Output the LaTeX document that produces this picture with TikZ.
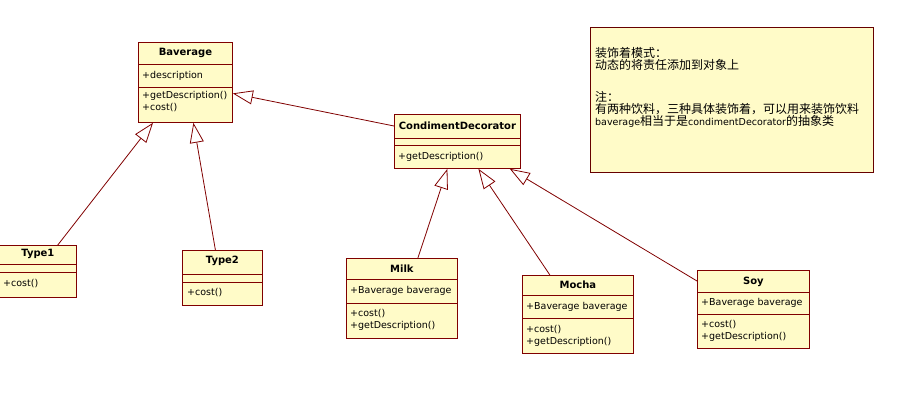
\documentclass[tikz,border=0pt]{standalone}
\usepackage{fontspec}
\setmainfont{DejaVu Sans}
\newfontfamily\cjk{Noto Sans CJK SC}
\newfontfamily\notelatin{DejaVu Sans}
\usetikzlibrary{arrows.meta,calc}
\definecolor{umlYellow}{RGB}{255,251,200}
\definecolor{umlRed}{RGB}{128,0,0}

\begin{document}
\begin{tikzpicture}[
  x=1pt, y=-1pt,
  classbox/.style={draw=umlRed, fill=umlYellow, line width=0.8pt, anchor=north west, inner sep=0pt},
  notebox/.style={draw=umlRed!80!black, fill=umlYellow, line width=0.8pt, anchor=north west, inner sep=0pt, minimum width=283, minimum height=145},
  title/.style={font=\fontsize{10}{12}\selectfont\bfseries, inner sep=0pt},
  member/.style={font=\fontsize{9.5}{12}\selectfont, anchor=west, align=left, inner sep=0pt},
  sepline/.style={umlRed, line width=0.8pt},
  inherit/.style={-{Triangle[open, length=20pt, width=14pt]}, umlRed, line width=0.8pt}
]
  \clip (0,0) rectangle (899,415);

  % Baverage
  \node[classbox, minimum width=94, minimum height=80] (bav) at (138,42) {};
  \draw[sepline] ([yshift=-22]bav.north west) -- ([yshift=-22]bav.north east);
  \draw[sepline] ([yshift=-45]bav.north west) -- ([yshift=-45]bav.north east);
  \node[title] (bavName) at ([yshift=-10.5]bav.north) {Baverage};
  \node[member] (bavAttr) at ([xshift=4,yshift=-33.5]bav.north west) {+description};
  \node[member] (bavOps) at ([xshift=4,yshift=-60]bav.north west) {+getDescription()\\+cost()};

  % CondimentDecorator
  \node[classbox, minimum width=126, minimum height=54] (cd) at (394,114) {};
  \draw[sepline] ([yshift=-24]cd.north west) -- ([yshift=-24]cd.north east);
  \draw[sepline] ([yshift=-31]cd.north west) -- ([yshift=-31]cd.north east);
  \node[title] (cdName) at ([yshift=-12]cd.north) {CondimentDecorator};
  \node[member] (cdOps) at ([xshift=4,yshift=-43]cd.north west) {+getDescription()};

  % Type1
  \node[classbox, minimum width=77, minimum height=52] (t1) at (-1,245) {};
  \draw[sepline] ([yshift=-19]t1.north west) -- ([yshift=-19]t1.north east);
  \draw[sepline] ([yshift=-27]t1.north west) -- ([yshift=-27]t1.north east);
  \node[title] (t1Name) at ([yshift=-8.5]t1.north) {Type1};
  \node[member] (t1Ops) at ([xshift=4,yshift=-39]t1.north west) {+cost()};

  % Type2
  \node[classbox, minimum width=80, minimum height=55] (t2) at (182,250) {};
  \draw[sepline] ([yshift=-24]t2.north west) -- ([yshift=-24]t2.north east);
  \draw[sepline] ([yshift=-32]t2.north west) -- ([yshift=-32]t2.north east);
  \node[title] (t2Name) at ([yshift=-11]t2.north) {Type2};
  \node[member] (t2Ops) at ([xshift=5,yshift=-43]t2.north west) {+cost()};

  % Milk
  \node[classbox, minimum width=111, minimum height=80] (milk) at (346,258) {};
  \draw[sepline] ([yshift=-21]milk.north west) -- ([yshift=-21]milk.north east);
  \draw[sepline] ([yshift=-45]milk.north west) -- ([yshift=-45]milk.north east);
  \node[title] (milkName) at ([yshift=-11]milk.north) {Milk};
  \node[member] (milkAttr) at ([xshift=4,yshift=-33]milk.north west) {+Baverage baverage};
  \node[member] (milkOps) at ([xshift=4,yshift=-61.5]milk.north west) {+cost()\\+getDescription()};

  % Mocha
  \node[classbox, minimum width=111, minimum height=78] (mocha) at (522,275) {};
  \draw[sepline] ([yshift=-20]mocha.north west) -- ([yshift=-20]mocha.north east);
  \draw[sepline] ([yshift=-43]mocha.north west) -- ([yshift=-43]mocha.north east);
  \node[title] (mochaName) at ([yshift=-10]mocha.north) {Mocha};
  \node[member] (mochaAttr) at ([xshift=4,yshift=-32]mocha.north west) {+Baverage baverage};
  \node[member] (mochaOps) at ([xshift=4,yshift=-60.5]mocha.north west) {+cost()\\+getDescription()};

  % Soy
  \node[classbox, minimum width=112, minimum height=78] (soy) at (697,270) {};
  \draw[sepline] ([yshift=-22]soy.north west) -- ([yshift=-22]soy.north east);
  \draw[sepline] ([yshift=-44]soy.north west) -- ([yshift=-44]soy.north east);
  \node[title] (soyName) at ([yshift=-11.5]soy.north) {Soy};
  \node[member] (soyAttr) at ([xshift=4,yshift=-33]soy.north west) {+Baverage baverage};
  \node[member] (soyOps) at ([xshift=4,yshift=-61]soy.north west) {+cost()\\+getDescription()};

  % note
  \node[notebox] (note) at (590,27) {};
  \node[anchor=west, align=left, inner sep=0pt, font=\cjk\fontsize{12}{12.3}\selectfont] (noteText) at ([xshift=5,yshift=-60.5]note.north west)
    {装饰着模式：\\
     动态的将责任添加到对象上\\[19.5pt]
     注：\\
     有两种饮料，三种具体装饰着，可以用来装饰饮料\\
     {\notelatin\fontsize{9.5}{12.3}\selectfont baverage}相当于是{\notelatin\fontsize{9.5}{12.3}\selectfont condimentDecorator}的抽象类};

  % generalizations
  \draw[inherit] ([xshift=-19]t1.north east) -- ([xshift=15]bav.south west);
  \draw[inherit] ([xshift=-7]t2.north) -- ([xshift=8]bav.south);
  \draw[inherit] ([yshift=-12]cd.north west) -- ([yshift=-11]bav.east);
  \draw[inherit] ([xshift=16]milk.north) -- ([xshift=-10]cd.south);
  \draw[inherit] ([xshift=-28]mocha.north) -- ([xshift=21]cd.south);
  \draw[inherit] ([yshift=-11]soy.north west) -- ([xshift=-11]cd.south east);
\end{tikzpicture}
\end{document}
